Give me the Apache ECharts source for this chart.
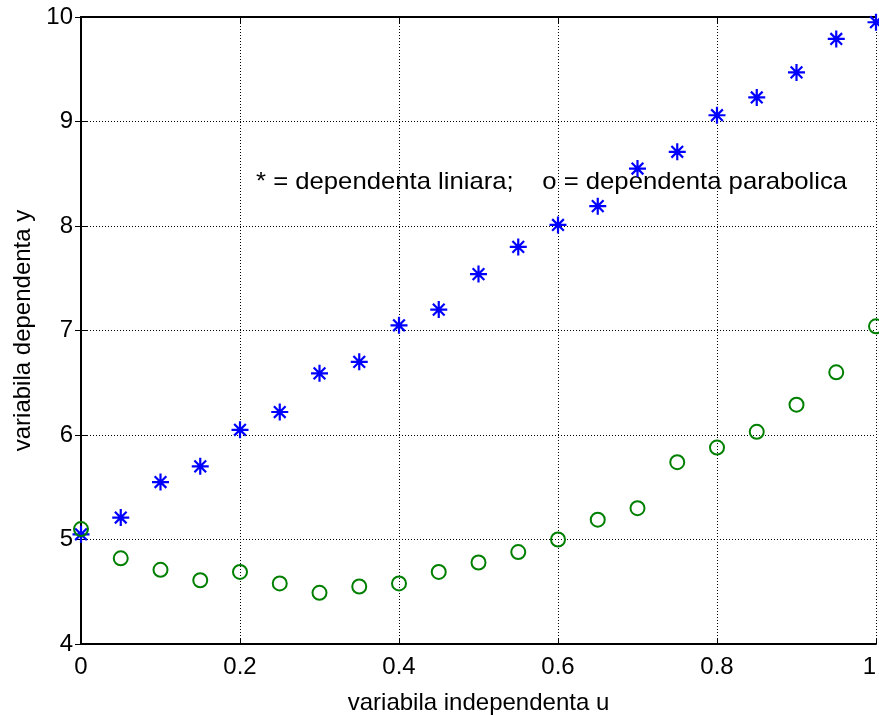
<!DOCTYPE html>
<html>
<head>
<meta charset="utf-8">
<script src="https://cdn.jsdelivr.net/npm/echarts@6/dist/echarts.min.js"></script>
<style>
  html, body { margin: 0; padding: 0; background: #fff; }
  #chart { width: 879px; height: 715px; }
</style>
</head>
<body>
<div id="chart"></div>
<script>
//----------------------Data----------------------
let u_values = [0, 0.05, 0.1, 0.15, 0.2, 0.25, 0.3, 0.35, 0.4, 0.45, 0.5,
                0.55, 0.6, 0.65, 0.7, 0.75, 0.8, 0.85, 0.9, 0.95, 1];
let y_liniara = [5.05, 5.21, 5.55, 5.70, 6.05, 6.22, 6.59, 6.70, 7.05, 7.20, 7.54,
                 7.80, 8.01, 8.19, 8.55, 8.71, 9.06, 9.23, 9.47, 9.79, 9.95];
let y_parabolica = [5.10, 4.82, 4.71, 4.61, 4.69, 4.58, 4.49, 4.55, 4.58, 4.69, 4.78,
                    4.88, 5.00, 5.19, 5.30, 5.74, 5.88, 6.03, 6.29, 6.60, 7.04];
let x_ticks = [0, 0.2, 0.4, 0.6, 0.8, 1];
let y_ticks = [4, 5, 6, 7, 8, 9, 10];

//----------------------Config----------------------
let font_family = "'Liberation Sans', Arial, sans-serif";
let font_size = 24;
let star_path = 'path://M8,0L8,16M0,8L16,8M2.5,2.5L13.5,13.5M2.5,13.5L13.5,2.5';

let chart_dom = document.getElementById("chart");
let chart = echarts.init(chart_dom);

function pairs(xs, ys) {
    return xs.map(function (x, i) { return [x, ys[i]]; });
}

let dotted = { color: '#000', width: 1, type: [1, 2] };
let box_line = { color: '#000', width: 2 };
let inner_tick = { inside: true, length: 6, lineStyle: { color: '#000', width: 1 } };

let option = {
    backgroundColor: '#fff',
    animation: false,
    grid: { left: 81, top: 17, right: 3, bottom: 71, containLabel: false, outerBoundsMode: 'none' },
    xAxis: [
        {
            type: 'value', min: x_ticks[0], max: x_ticks[x_ticks.length - 1], interval: 0.2,
            position: 'bottom',
            name: 'variabila independenta u', nameLocation: 'middle', nameGap: 47,
            nameTextStyle: { color: '#000', fontSize: font_size, fontFamily: font_family },
            axisLine: { lineStyle: box_line },
            axisTick: inner_tick,
            axisLabel: { color: '#000', fontSize: font_size, fontFamily: font_family, margin: 11,
                         alignMaxLabel: 'right' },
            splitLine: { show: true, lineStyle: dotted }
        },
        {
            type: 'value', min: 0, max: 1, interval: 0.2, position: 'top',
            axisLine: { lineStyle: box_line },
            axisTick: inner_tick,
            axisLabel: { show: false },
            splitLine: { show: false }
        }
    ],
    yAxis: [
        {
            type: 'value', min: y_ticks[0], max: y_ticks[y_ticks.length - 1], interval: 1,
            position: 'left',
            name: 'variabila dependenta y', nameLocation: 'middle', nameGap: 46,
            nameTextStyle: { color: '#000', fontSize: font_size, fontFamily: font_family },
            axisLine: { lineStyle: box_line },
            axisTick: inner_tick,
            axisLabel: { color: '#000', fontSize: font_size, fontFamily: font_family, margin: 8 },
            splitLine: { show: true, lineStyle: dotted }
        },
        {
            type: 'value', min: 4, max: 10, interval: 1, position: 'right',
            axisLine: { lineStyle: box_line },
            axisTick: inner_tick,
            axisLabel: { show: false },
            splitLine: { show: false }
        }
    ],
    series: [
        {
            name: 'liniara', type: 'scatter', xAxisIndex: 0, yAxisIndex: 0,
            symbol: star_path, symbolSize: 17, clip: true,
            itemStyle: { color: '#0000ff', borderColor: '#0000ff', borderWidth: 2.2, opacity: 1 },
            data: pairs(u_values, y_liniara)
        },
        {
            name: 'parabolica', type: 'scatter', xAxisIndex: 0, yAxisIndex: 0,
            symbol: 'circle', symbolSize: 14, clip: true,
            itemStyle: { color: 'transparent', borderColor: '#008000', borderWidth: 2, opacity: 1 },
            data: pairs(u_values, y_parabolica)
        }
    ],
    graphic: [
        {
            type: 'text', x: 256, y: 170, scaleX: 1.07,
            style: {
                text: '* = dependenta liniara;    o = dependenta parabolica',
                fill: '#000', fontSize: font_size, fontFamily: font_family
            }
        }
    ]
};

if (option && typeof option === "object") {
    chart.setOption(option, true);
}
</script>
</body>
</html>
